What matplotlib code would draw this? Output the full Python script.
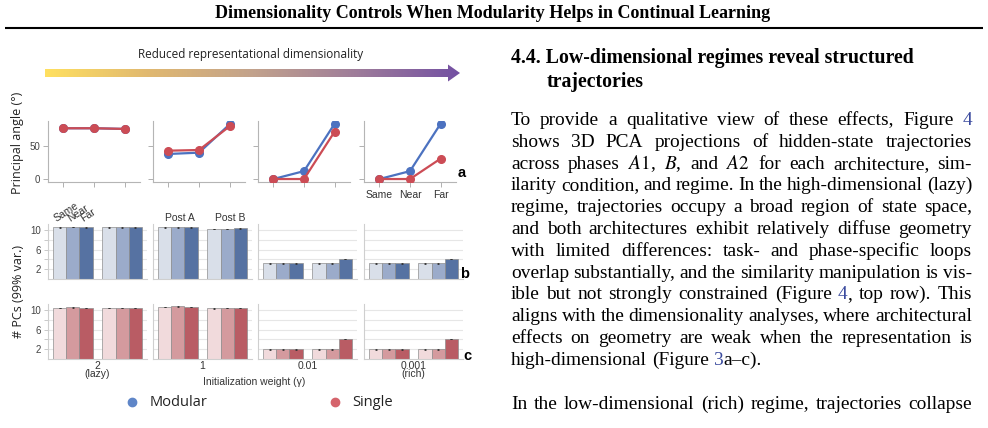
import numpy as np
import matplotlib
matplotlib.use('Agg')
import matplotlib.pyplot as plt
from matplotlib.colors import LinearSegmentedColormap
from matplotlib.patches import Polygon

plt.rcParams['mathtext.fontset'] = 'stix'

# ---- data ----
similarity = ['Same', 'Near', 'Far']
phases = ['Post A', 'Post B']
gammas = ['2\n(lazy)', '1', '0.01', '0.001\n(rich)']

# principal angle (deg), per gamma panel, per similarity
angle_modular = [[77, 77, 76], [38, 40, 83], [0, 12, 84], [0, 12, 84]]
angle_single = [[77, 77, 76], [43, 44, 80], [0, 0, 72], [0, 0, 31]]

# number of PCs (99% var.), per gamma panel, per phase, per similarity
pcs_modular = [[[10.5, 10.6, 10.5], [10.5, 10.5, 10.5]],
               [[10.5, 10.5, 10.5], [10.2, 10.2, 10.3]],
               [[3.2, 3.2, 3.2], [3.2, 3.2, 4.1]],
               [[3.2, 3.2, 3.2], [3.2, 3.2, 4.1]]]
pcs_single = [[[10.4, 10.5, 10.4], [10.4, 10.4, 10.4]],
              [[10.6, 10.7, 10.6], [10.3, 10.4, 10.4]],
              [[2.0, 2.0, 2.0], [2.0, 2.0, 4.1]],
              [[2.0, 2.0, 2.0], [2.0, 2.0, 4.1]]]

title = 'Dimensionality Controls When Modularity Helps in Continual Learning'
heading = ['4.4. Low-dimensional regimes reveal structured', 'trajectories']
body = [
    'To provide a qualitative view of these effects, Figure |4|',
    'shows 3D PCA projections of hidden-state trajectories',
    'across phases $A1$, $B$, and $A2$ for each architecture, sim-',
    'ilarity condition, and regime. In the high-dimensional (lazy)',
    'regime, trajectories occupy a broad region of state space,',
    'and both architectures exhibit relatively diffuse geometry',
    'with limited differences:  task- and phase-specific loops',
    'overlap substantially, and the similarity manipulation is vis-',
    'ible but not strongly constrained (Figure |4|, top row). This',
    'aligns with the dimensionality analyses, where architectural',
    'effects on geometry are weak when the representation is',
    'high-dimensional (Figure |3|a\u2013c).',
]
body2 = ['In the low-dimensional (rich) regime, trajectories collapse']

BLUE = '#4C72C0'
RED = '#CC4C55'
BLUES = ['#D9DFE9', '#9BABCA', '#5672A2']
REDS = ['#F1DADC', '#D49A9E', '#B95C64']
LINK = '#3A4A9E'
SANS = 'Liberation Sans'

W, H = 988, 428
fig = plt.figure(figsize=(W / 100, H / 100), dpi=100)


def px_axes(x, y, w, h):
    return fig.add_axes([x / W, 1 - (y + h) / H, w / W, h / H])


lefts = [48, 153, 258, 364]

# ---- row a: principal angles ----
for i in range(4):
    ax = px_axes(lefts[i], 121, 92, 61)
    xs = np.arange(3)
    ax.plot(xs, angle_modular[i], '-o', color=BLUE, lw=1.6, ms=5.5, zorder=3)
    ax.plot(xs, angle_single[i], '-o', color=RED, lw=1.6, ms=5.5, zorder=4)
    ax.set_xlim(-0.5, 2.5)
    ax.set_ylim(-4.5, 88)
    ax.set_xticks(xs)
    ax.set_yticks([0, 50])
    ax.set_xticklabels(similarity if i == 3 else [''] * 3, fontsize=7.5,
                       family=SANS, color='#333333')
    ax.set_yticklabels(['0', '50'] if i == 0 else ['', ''], fontsize=7,
                       family=SANS, color='#444444')
    ax.tick_params(length=3.5, width=0.7, color='#b0b0b0', pad=2)
    for s in ['top', 'right']:
        ax.spines[s].set_visible(False)
    for s in ['left', 'bottom']:
        ax.spines[s].set_color('#b5b5b5')
        ax.spines[s].set_linewidth(0.8)
    ax.patch.set_alpha(0)

# ---- rows b, c: number of PCs ----
bw = 0.8 / 3
for row_y, data, cols in [(224, pcs_modular, BLUES), (304, pcs_single, REDS)]:
    for i in range(4):
        ax = px_axes(lefts[i], row_y, 99, 55)
        for g in range(2):
            xs = g + (np.arange(3) - 1) * bw
            ax.bar(xs, data[i][g], width=bw, color=cols, edgecolor='#8f8f8f',
                   linewidth=0.5, zorder=2)
            ax.errorbar(xs, data[i][g], yerr=0.07, fmt='none', ecolor='#333333',
                        elinewidth=0.7, capsize=1, capthick=0.6, zorder=3)
        for yv in [2, 4, 6, 8, 10]:
            ax.axhline(yv, color='#e6e6e6', lw=0.8, zorder=0)
        ax.set_xlim(-0.5, 1.5)
        ax.set_ylim(0, 11.2)
        ax.set_xticks([])
        ax.set_yticks([2, 4, 6, 8, 10])
        if i == 0:
            ax.set_yticklabels(['2', '', '6', '', '10'], fontsize=7,
                               family=SANS, color='#444444')
            ax.tick_params(axis='y', length=3, width=0.6, color='#c0c0c0', pad=2)
        else:
            ax.set_yticklabels([''] * 5)
            ax.tick_params(axis='y', length=0)
        for s in ['top', 'right']:
            ax.spines[s].set_visible(False)
        for s in ['left', 'bottom']:
            ax.spines[s].set_color('#cfcfcf')
            ax.spines[s].set_linewidth(0.8)
        ax.patch.set_alpha(0)
        if row_y == 224 and i == 0:
            for k, lab in enumerate(similarity):
                ax.text((k - 1) * bw - 0.04, 11.3, lab, rotation=33, ha='left',
                        va='bottom', rotation_mode='anchor', fontsize=7.5,
                        family=SANS, color='#333333', clip_on=False)
        if row_y == 224 and i == 1:
            for g, lab in enumerate(phases):
                ax.text(g + 0.05, 11.4, lab, ha='center', va='bottom', fontsize=7.5,
                        family=SANS, color='#333333', clip_on=False)
        if row_y == 304:
            ax.set_xlabel(gammas[i], fontsize=7.5, family=SANS, color='#333333',
                          labelpad=1.5, linespacing=0.8)

# ---- page overlay ----
pg = fig.add_axes([0, 0, 1, 1], zorder=10)
pg.axis('off')
pg.patch.set_alpha(0)

arrow_cmap = LinearSegmentedColormap.from_list(
    'dim', ['#FFE060', '#E0B870', '#C2A28C', '#9E7C9A', '#7350A3'])
grad = np.linspace(0, 1, 256)[None, :]
im = pg.imshow(grad, cmap=arrow_cmap, extent=(45, 460, 82, 64), aspect='auto',
               interpolation='bilinear', zorder=1)
arrow = Polygon([(45, 69), (448, 69), (448, 64.5), (460, 73), (448, 81.5),
                 (448, 77), (45, 77)], closed=True, facecolor='none',
                edgecolor='none', transform=pg.transData)
pg.add_patch(arrow)
im.set_clip_path(arrow)
pg.set_xlim(0, W)
pg.set_ylim(H, 0)

pg.text(251, 54, 'Reduced representational dimensionality', ha='center', va='center',
        fontsize=8.5, family='Open Sans', color='#222222')
pg.text(18, 143, 'Principal angle (\u00b0)', rotation=90, ha='center', va='center',
        fontsize=9, family='Open Sans', color='#222222')
pg.text(18, 291, '# PCs (99% var.)', rotation=90, ha='center', va='center',
        fontsize=9, family='Open Sans', color='#222222')
pg.text(254, 382, 'Initialization weight (\u03b3)', ha='center', va='center',
        fontsize=7.5, family=SANS, color='#333333')
for lx, ly, lab in [(462, 173, 'a'), (465, 274, 'b'), (467, 356, 'c')]:
    pg.text(lx, ly, lab, ha='center', va='center', fontsize=10.5,
            fontweight='bold', family=SANS)

# legend
pg.plot([132], [402], 'o', ms=6, color='#5F86C8')
pg.text(150, 403, 'Modular', ha='left', va='center', fontsize=10.5,
        family='Open Sans', color='#222222')
pg.plot([335], [402], 'o', ms=6, color='#D5646C')
pg.text(352, 403, 'Single', ha='left', va='center', fontsize=10.5,
        family='Open Sans', color='#222222')

renderer = fig.canvas.get_renderer()


def measure(s, **kw):
    t = pg.text(0, 0, s, **kw)
    w = t.get_window_extent(renderer=renderer).width
    t.remove()
    return w


serif = dict(family='Liberation Serif')
tsize = 12 * 552 / measure(title, fontsize=12, fontweight='bold', **serif)
pg.text(493, 13, title, ha='center', va='center', fontsize=tsize,
        fontweight='bold', **serif)
pg.plot([5, 983], [27.5, 27.5], color='black', lw=1.5, solid_capstyle='butt')

hsize = 13 * 402 / measure(heading[0], fontsize=13, fontweight='bold', **serif)
pg.text(511, 63, heading[0], ha='left', va='baseline', fontsize=hsize,
        fontweight='bold', **serif)
pg.text(547, 87, heading[1], ha='left', va='baseline', fontsize=hsize,
        fontweight='bold', **serif)


def word_widths(line, **kw):
    words = [w.split('|') for w in line.split()]
    return words, [sum(measure(s, **kw) for s in segs if s) for segs in words]


def draw_line(line, y, x0, x1, justify, **kw):
    words, widths = word_widths(line, **kw)
    space = measure('a a', **kw) - measure('aa', **kw)
    gap = (x1 - x0 - sum(widths)) / (len(words) - 1) if justify else space
    x = x0
    for segs, w in zip(words, widths):
        xx = x
        for k, s in enumerate(segs):
            if not s:
                continue
            pg.text(xx, y, s, ha='left', va='baseline',
                    color=LINK if k % 2 else 'black', **kw)
            xx += measure(s, **kw)
        x += w + gap


# fit body size so the tightest justified line just fills the column
probe = dict(fontsize=12, **serif)
sp = measure('a a', **probe) - measure('aa', **probe)
natural = []
for line in body[:-1] + body2:
    words, widths = word_widths(line, **probe)
    natural.append(sum(widths) + sp * 0.85 * (len(words) - 1))
bsize = 12 * 461 / max(natural)

bkw = dict(fontsize=bsize, **serif)
for n, line in enumerate(body):
    draw_line(line, 125 + n * 21.8, 511, 972, n < len(body) - 1, **bkw)
draw_line(body2[0], 409, 511, 972, True, **bkw)

fig.savefig('out.png', dpi=100)
